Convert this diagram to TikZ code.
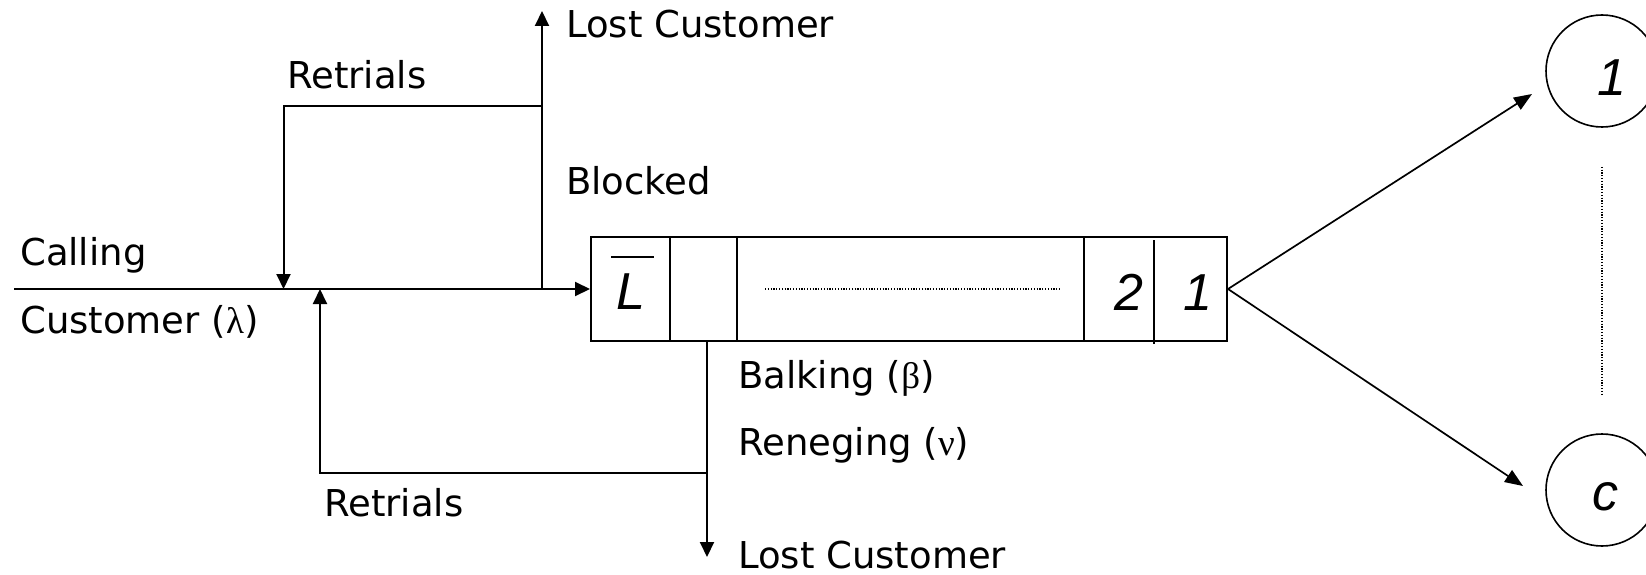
\documentclass[tikz,border=0pt]{standalone}
\usepackage{fontspec}
\setmainfont{DejaVu Sans}
\newfontfamily\grk{Liberation Serif}
\newfontfamily\numfont{Liberation Sans}
\usetikzlibrary{arrows.meta}
\begin{document}
\begin{tikzpicture}[x=1pt,y=-1pt,
  line/.style={line width=2pt},
  arr/.style={line width=2pt,-{Triangle[width=14pt,length=15pt]}},
  darr/.style={line width=1.7pt,-{Triangle[width=14pt,length=18pt]}},
  lbl/.style={anchor=base west,inner sep=0pt,font=\fontsize{37}{44}\selectfont},
  num/.style={anchor=base,inner sep=0pt,font=\numfont\fontsize{52}{60}\selectfont\itshape},
  queue/.style={draw,line width=2pt,minimum width=636pt,minimum height=104pt,inner sep=0pt},
  server/.style={draw,circle,line width=1.6pt,minimum size=112pt,inner sep=0pt},
  cellwall/.style={line width=1.6pt},
  dots/.style={line width=1.2pt,dash pattern=on 1.2pt off 1.6pt}]

\useasboundingbox (0,0) rectangle (1646,575);

% waiting line with its cells
\node[queue] (q) at (909,289) {};
\draw[cellwall] (670,0 |- q.north) -- (670,0 |- q.south);
\draw[cellwall] (737,0 |- q.north) -- (737,0 |- q.south);
\draw[cellwall] (1084,0 |- q.north) -- (1084,0 |- q.south);
\draw[cellwall] (1154,240) -- (1154,344);
\draw[dots] (765,289) -- (1060,289);

\node[num] (lbar) at (631,309.5) {L};
\draw[line] ([xshift=-5pt,yshift=17pt]lbar.north west) -- ([xshift=8pt,yshift=17pt]lbar.north east);
\node[num] (c2) at (1129,310) {2};
\node[num] (c1) at (1198,310) {1};

% junctions and free ends
\coordinate (src)   at (14,289);
\coordinate (jblk)  at (542,289);
\coordinate (lostT) at (542,11);
\coordinate (kT)    at (542,106);
\coordinate (jret)  at (283.5,289);
\coordinate (jin)   at (320,289);
\coordinate (jb)    at (707,0 |- q.south);
\coordinate (kB)    at (707,473);
\coordinate (lostB) at (707,557);

% arrivals, blocking and retrials
\draw[arr] (src) -- (q.west);
\draw[arr] (jblk) -- (lostT);
\draw[arr] (kT) -| (jret);
\draw[arr] (jb) -- (lostB);
\draw[arr] (kB) -| (jin);

% servers
\node[server] (s1) at (1602,71) {};
\node[server] (sc) at (1602,490) {};
\node[num] (n1) at (1612,96) {1};
\node[num] (nc) at (1605,510) {c};
\draw[dots,shorten <=39pt,shorten >=38pt] (s1) -- (sc);

\coordinate (t1) at (1532,94);
\coordinate (tc) at (1523,486);
\draw[darr] (q.east) -- (t1);
\draw[darr] (q.east) -- (tc);

% labels
\node[lbl] (lostTop) at (566,38) {Lost Customer};
\node[lbl] (retTop)  at (287,89) {Retrials};
\node[lbl] (blk)     at (566,194) {Blocked};
\node[lbl] (call1)   at (20,265) {Calling};
\node[lbl] (call2)   at (20,333) {Customer ({\grk λ})};
\node[lbl] (balk)    at (738,388) {Balking ({\grk β})};
\node[lbl] (reneg)   at (738,455) {Reneging ({\grk ν})};
\node[lbl] (retBot)  at (324,516) {Retrials};
\node[lbl] (lostBot) at (738,568) {Lost Customer};
\end{tikzpicture}
\end{document}
